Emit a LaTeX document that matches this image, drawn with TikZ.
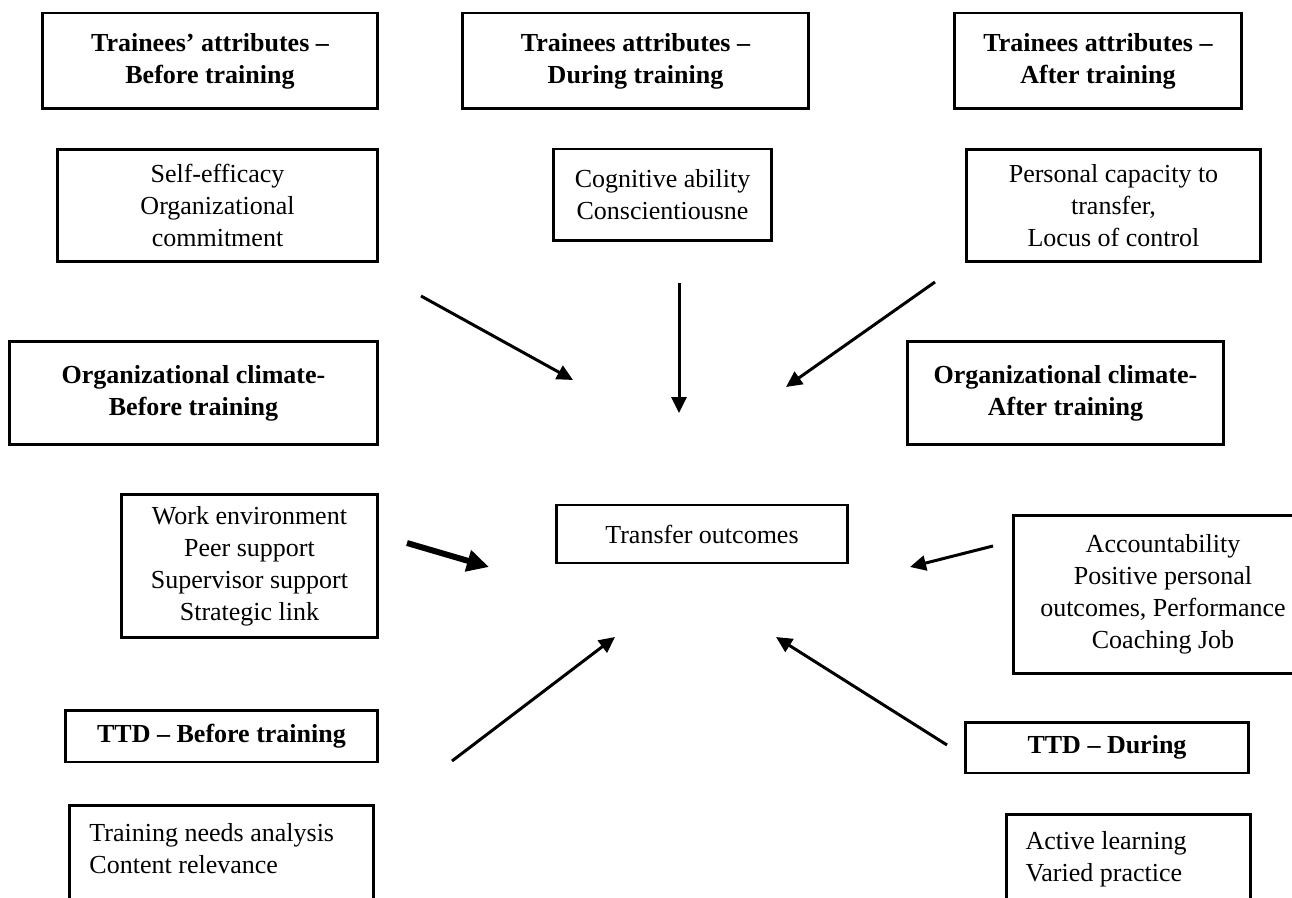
\documentclass[tikz,border=0pt]{standalone}
\usepackage{fontspec}
\setmainfont{Liberation Serif}
\usetikzlibrary{arrows.meta}
\tikzstyle{head}=[draw,line width=1.7pt,font=\bfseries,align=center,inner sep=0pt]
\tikzstyle{item}=[draw,line width=1.7pt,align=center,inner sep=0pt]
\tikzstyle{link}=[->,line width=1.7pt]

\begin{document}
\fontsize{14.8}{18.2}\selectfont
\begin{tikzpicture}[x=0.02cm,y=-0.02cm,>={Triangle[length=0.32cm,width=0.3cm]}]
      \useasboundingbox (0,0) rectangle (1292,898);
      \clip (0,0) rectangle (1292,898);
      % top row
      \node[head,minimum width=6.72cm,minimum height=1.92cm] (t1) at (210,61) {Trainees’ attributes --\\Before training};
      \node[item,minimum width=6.42cm,minimum height=2.26cm] (a1) at (217.5,205.5) {Self-efficacy\\Organizational\\commitment};
      \node[head,minimum width=6.94cm,minimum height=1.92cm] (t2) at (635.5,61) {Trainees attributes --\\During training};
      \node[item,minimum width=4.38cm,minimum height=1.84cm] (a2) at (662.5,195) {Cognitive ability\\Conscientiousne};
      \node[head,minimum width=5.76cm,minimum height=1.92cm] (t3) at (1098,61) {Trainees attributes --\\After training};
      \node[item,minimum width=5.90cm,minimum height=2.26cm] (a3) at (1113.5,205.5) {Personal capacity to\\transfer,\\Locus of control};
      % middle row
      \node[head,minimum width=7.38cm,minimum height=2.08cm] (o1) at (193.5,393) {Organizational climate-\\Before training};
      \node[item,minimum width=5.14cm,minimum height=2.88cm] (w1) at (249.5,566) {Work environment\\Peer support\\Supervisor support\\Strategic link};
      \node[head,minimum width=6.34cm,minimum height=2.08cm] (o2) at (1065.5,393) {Organizational climate-\\After training};
      \node[item,minimum width=6.0cm,minimum height=3.18cm] (acc) at (1163,594.5) {Accountability\\Positive personal\\outcomes, Performance\\Coaching Job};
      \node[item,minimum width=5.84cm,minimum height=1.16cm] (out) at (702,534) {Transfer outcomes};
      % bottom row
      \node[head,minimum width=6.26cm,minimum height=1.04cm] (d1) at (221.5,736) {TTD -- Before training};
      \node[item,anchor=north west,align=flush left,inner xsep=0.4cm,inner ysep=0.36cm,text width=5.28cm,text depth=3cm] (tna) at (68,804) {Training needs analysis\\Content relevance};
      \node[head,minimum width=5.68cm,minimum height=1.02cm] (d2) at (1107,747.5) {TTD -- During};
      \node[item,anchor=north west,align=flush left,inner xsep=0.38cm,inner ysep=0.34cm,text width=4.12cm,text depth=3cm] (act) at (1005,813) {Active learning\\Varied practice};
      % arrow ends
      \coordinate (s1) at (421,296);
      \coordinate (e1) at (573,380);
      \coordinate (s2) at (679,283);
      \coordinate (e2) at (679,413);
      \coordinate (s3) at (935,282);
      \coordinate (e3) at (786,387);
      \coordinate (s4) at (407,543);
      \coordinate (e4) at (489,567);
      \coordinate (s5) at (993,546);
      \coordinate (e5) at (910,567);
      \coordinate (s6) at (452,761);
      \coordinate (e6) at (615,637);
      \coordinate (s7) at (947,745);
      \coordinate (e7) at (776,637);
      \draw[link] (s1) -- (e1);
      \draw[link] (s2) -- (e2);
      \draw[link] (s3) -- (e3);
      \draw[link,line width=3.4pt,>={Triangle[length=0.44cm,width=0.42cm]}] (s4) -- (e4);
      \draw[link] (s5) -- (e5);
      \draw[link] (s6) -- (e6);
      \draw[link] (s7) -- (e7);
\end{tikzpicture}
\end{document}
